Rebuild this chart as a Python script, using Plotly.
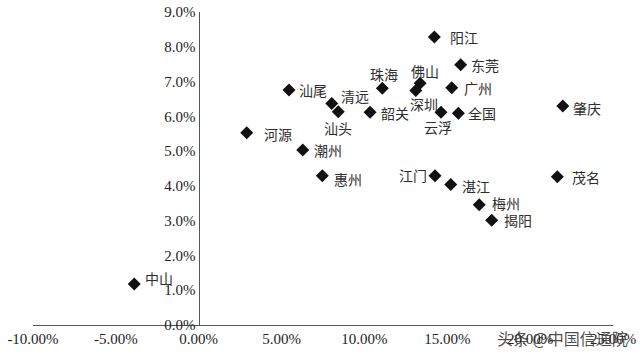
import plotly.graph_objects as go

# Data (x: %, y: %)
cities = ["阳江", "东莞", "广州", "佛山", "深圳", "珠海", "清远", "汕头", "韶关", "云浮", "全国",
          "肇庆", "汕尾", "河源", "潮州", "惠州", "江门", "湛江", "茂名", "梅州", "揭阳", "中山"]
x_vals = [14.22, 15.81, 15.27, 13.36, 13.10, 11.08, 8.03, 8.42, 10.34, 14.62, 15.67,
          21.97, 5.45, 2.90, 6.28, 7.46, 14.26, 15.21, 21.64, 16.93, 17.68, -3.89]
y_vals = [8.28, 7.48, 6.82, 6.95, 6.74, 6.81, 6.37, 6.13, 6.12, 6.12, 6.09,
          6.30, 6.76, 5.53, 5.03, 4.29, 4.29, 4.04, 4.26, 3.46, 3.01, 1.18]

x_ticks = [-10, -5, 0, 5, 10, 15, 20, 25]
x_tick_labels = ["-10.00%", "-5.00%", "0.00%", "5.00%", "10.00%", "15.00%", "20.00%", "25.00%"]
y_ticks = [0, 1, 2, 3, 4, 5, 6, 7, 8, 9]
y_tick_labels = ["0.0%", "1.0%", "2.0%", "3.0%", "4.0%", "5.0%", "6.0%", "7.0%", "8.0%", "9.0%"]

# label placement (style only): anchor, xshift, yshift
label_pos = {
    "阳江": ("left", 14, 0), "东莞": ("left", 8, 0), "广州": ("left", 10, 0),
    "佛山": ("center", 5, 12), "深圳": ("center", 8, -13), "珠海": ("center", 2, 14),
    "清远": ("left", 7, 7), "汕头": ("center", 0, -16), "韶关": ("left", 9, -1),
    "云浮": ("center", -3, -15), "全国": ("left", 8, 0), "肇庆": ("left", 8, -2),
    "汕尾": ("left", 8, 0), "河源": ("left", 15, -1), "潮州": ("left", 9, 0),
    "惠州": ("left", 10, -3), "江门": ("right", -6, 1), "湛江": ("left", 9, -1),
    "茂名": ("left", 13, 0), "梅州": ("left", 11, 2), "揭阳": ("left", 10, 0),
    "中山": ("left", 9, 6),
}

xr = [x_ticks[0], x_ticks[-1]]
yr = [y_ticks[0], y_ticks[-1]]

fig = go.Figure()
fig.add_trace(go.Scatter(
    x=x_vals, y=y_vals, mode="markers",
    marker=dict(symbol="diamond", size=10, color="#111111"),
    hoverinfo="skip", showlegend=False,
))

cjk = "Noto Sans CJK SC"
for c, xv, yv in zip(cities, x_vals, y_vals):
    anc, dx, dy = label_pos[c]
    fig.add_annotation(x=xv, y=yv, text=c, showarrow=False,
                       xanchor=anc, yanchor="middle", xshift=dx, yshift=dy,
                       font=dict(family=cjk, size=14, color="#2e2e2e"))

fig.add_annotation(xref="paper", yref="paper", x=1.03, y=-0.04, text="头条 @中国信通院",
                   showarrow=False, xanchor="right", yanchor="middle",
                   font=dict(family=cjk, size=16, color="rgba(45,45,45,0.85)"))

serif = "Liberation Serif"
fig.update_layout(
    width=640, height=354,
    margin=dict(l=33, r=27, t=12, b=29),
    paper_bgcolor="white", plot_bgcolor="white",
    xaxis=dict(range=xr, tickvals=x_ticks, ticktext=x_tick_labels, automargin=False,
               showgrid=False, zeroline=False, showline=True, linecolor="#555555",
               linewidth=1.2, ticks="", tickfont=dict(family=serif, size=15, color="#222222")),
    yaxis=dict(range=yr, tickvals=y_ticks, ticktext=y_tick_labels, automargin=False,
               showgrid=False, zeroline=False, showline=True, linecolor="#555555",
               linewidth=1.2, ticks="", anchor="free",
               position=(0 - xr[0]) / (xr[1] - xr[0]),
               tickfont=dict(family=serif, size=15, color="#222222")),
)

fig.write_html("out.html")
